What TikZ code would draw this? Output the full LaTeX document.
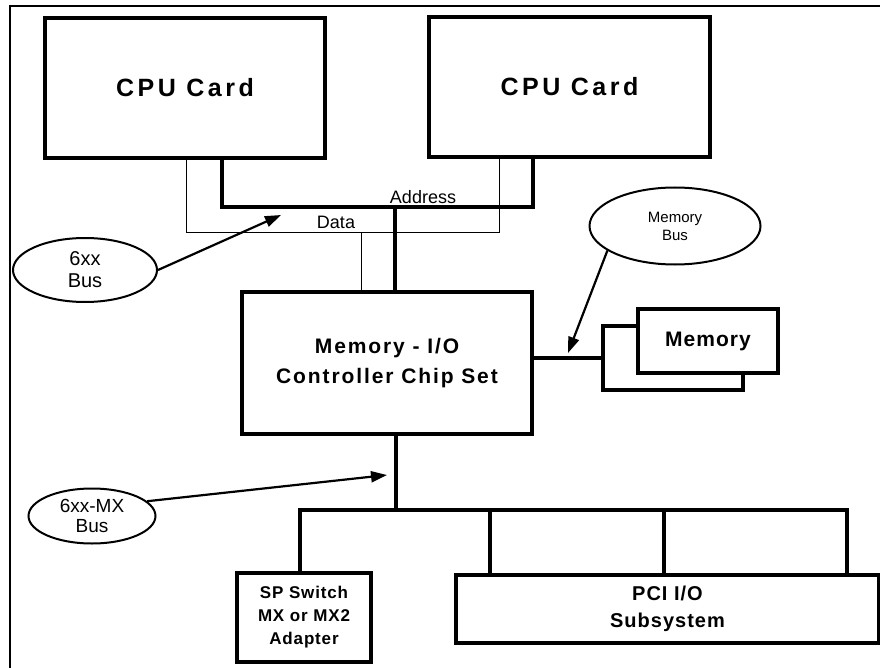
\documentclass[tikz,border=0pt]{standalone}
\usepackage{fontspec}
\setmainfont{Liberation Sans}
\newfontfamily\lsA{Liberation Sans}[LetterSpace=14]
\newfontfamily\lsB{Liberation Sans}[LetterSpace=9]
\newfontfamily\lsC{Liberation Sans}[LetterSpace=5]
\usetikzlibrary{shapes.geometric,arrows.meta}
\begin{document}
\begin{tikzpicture}[x=1pt,y=-1pt,
  box/.style={draw,line width=3.4pt,fill=white,inner sep=0pt,align=center},
  oval/.style={draw,ellipse,line width=2pt,inner sep=0pt,align=center},
  bus/.style={line width=3.4pt},
  dbus/.style={line width=1pt},
  pointer/.style={line width=2.2pt,-{Triangle[length=16pt,width=11pt]}},
]
\useasboundingbox (0,0) rectangle (880,668);
% frame
\draw[line width=2.5pt] (10,690) -- (10,6) -- (900,6);

% coordinates for bus corners
\coordinate (aL) at (222,207); \coordinate (aR) at (533,207); \coordinate (aD) at (395,207);
\coordinate (dL) at (186,233); \coordinate (dR) at (499,233); \coordinate (dD) at (361,233);
\coordinate (mxJ) at (396,510);
\coordinate (bL) at (300,510); \coordinate (bR) at (847,510);
\coordinate (b2) at (490,510); \coordinate (b3) at (664,510);
\coordinate (t1) at (281,215); \coordinate (t2) at (568,353); \coordinate (t3) at (387,475);

% boxes
\node[box, minimum width=280pt, minimum height=140pt, font=\lsA\bfseries\fontsize{25}{30}\selectfont] (cpu1) at (185,88) {CPU Card};
\node[box, minimum width=281pt, minimum height=140pt, font=\lsA\bfseries\fontsize{25}{30}\selectfont] (cpu2) at (569.5,87) {CPU Card};
\node[box, minimum width=290pt, minimum height=142pt, font=\lsB\bfseries\fontsize{21}{30}\selectfont] (memio) at (387,363) {Memory - I/O\\Controller Chip Set};
\node[box, minimum width=140pt, minimum height=64pt] (memB) at (673,358) {};
\node[box, minimum width=140pt, minimum height=64pt, font=\lsC\bfseries\fontsize{21}{25}\selectfont] (memF) at (708,341) {Memory};
\node[box, minimum width=134pt, minimum height=89pt, font=\lsC\bfseries\fontsize{17}{23}\selectfont] (sp) at (304,617.5) {SP Switch\\MX or MX2\\Adapter};
\node[box, minimum width=423pt, minimum height=68pt, font=\lsC\bfseries\fontsize{20}{27}\selectfont] (pci) at (667.5,609) {PCI I/O\\Subsystem};

% ellipses
\node[oval, minimum width=144pt, minimum height=64pt, font=\fontsize{20}{22}\selectfont] (b6) at (85,270) {6xx\\Bus};
\node[oval, minimum width=171pt, minimum height=77pt, font=\fontsize{15}{18}\selectfont] (mb) at (675,226) {Memory\\Bus};
\node[oval, minimum width=127pt, minimum height=55pt, font=\fontsize{19}{20}\selectfont] (mx) at (92,516) {6xx-MX\\Bus};

% labels
\node[font=\fontsize{18}{20}\selectfont, inner sep=0pt] (addr) at (423,197) {Address};
\node[font=\fontsize{18}{20}\selectfont, inner sep=0pt] (data) at (336,222) {Data};

% buses
\draw[bus] (cpu1.south -| aL) -- (aL) -- (aR) -- (cpu2.south -| aR);
\draw[bus] (aD) -- (memio.north -| aD);
\draw[dbus] (cpu1.south -| dL) -- (dL) -- (dR) -- (cpu2.south -| dR);
\draw[dbus] (dD) -- (memio.north -| dD);
\draw[bus] (memio.east |- memB.west) -- (memB.west);
\draw[bus] (memio.south -| mxJ) -- (mxJ);
\draw[bus] (sp.north -| bL) -- (bL) -- (bR) -- (pci.north -| bR);
\draw[bus] (b2) -- (pci.north -| b2);
\draw[bus] (b3) -- (pci.north -| b3);

% pointers
\draw[pointer] (b6.east) -- (t1);
\draw[pointer] (mb.200) -- (t2);
\draw[pointer] (mx.15) -- (t3);
\end{tikzpicture}
\end{document}
